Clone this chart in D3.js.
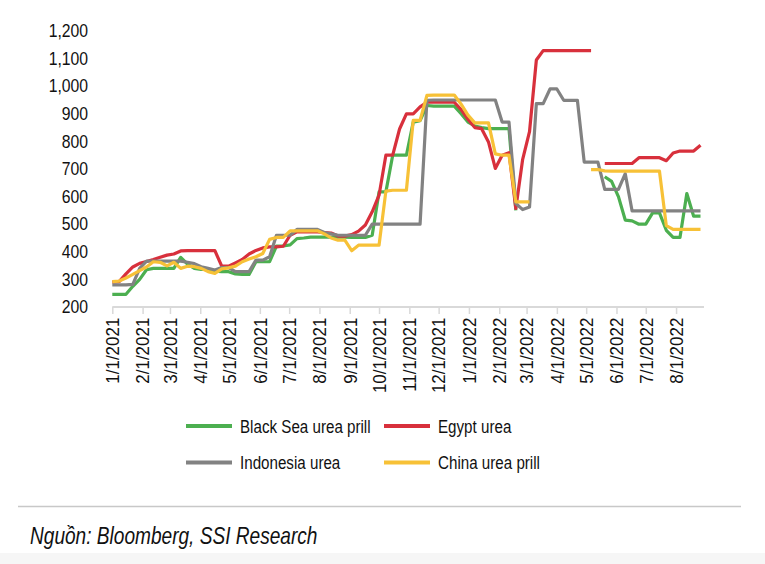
<!DOCTYPE html>
<html>
<head>
<meta charset="utf-8">
<script src="https://cdn.jsdelivr.net/npm/d3@7"></script>
<style>
  html, body { margin: 0; padding: 0; background: #ffffff; }
  svg { display: block; }
  text { font-family: 'Liberation Sans', Arial, Helvetica, sans-serif; fill: #111; }
</style>
</head>
<body>
<svg id="chart" width="765" height="564"></svg>
<script>
// ---- Data (weekly observations, starting 1/1/2021) ----
const startDate = new Date(2021, 0, 1);
const weekCount = 87;
const dates = d3.range(weekCount).map(i => d3.timeDay.offset(startDate, 7 * i));

const blackSea = [
  246, 246, 246, 275, 300, 335, 340, 340, 340, 340,
  380, 355, 340, 336, 336, 330, 328, 328, 320, 318,
  318, 364, 364, 364, 421, 421, 425, 448, 450, 453,
  453, 453, 453, 453, 453, 452, 452, 452, 460, 617,
  617, 750, 750, 750, 870, 875, 930, 928, 928, 928,
  928, 900, 870, 856, 850, 846, 846, 846, 846, 550,
  null, null, null, null, null, null, null, null, null, null,
  null, null, 672, 655, 600, 515, 512, 500, 500, 541,
  541, 478, 452, 452, 611, 529, 529
];
const egypt = [
  290, 292, 320, 345, 358, 365, 372, 380, 388, 392,
  403, 404, 404, 404, 404, 404, 348, 348, 360, 372,
  392, 405, 414, 418, 418, 420, 460, 472, 472, 472,
  472, 470, 468, 457, 457, 462, 475, 497, 545, 605,
  750, 750, 845, 900, 900, 925, 942, 942, 942, 942,
  942, 915, 880, 850, 846, 798, 702, 750, 759, 557,
  735, 835, 1095, 1129, 1129, 1129, 1129, 1129, 1129, 1129,
  1129, null, 720, 720, 720, 720, 720, 741, 741, 741,
  741, 730, 758, 765, 765, 765, 786
];
const indonesia = [
  280, 280, 280, 282, 340, 366, 366, 366, 366, 366,
  366, 362, 357, 346, 340, 334, 343, 343, 328, 328,
  328, 370, 370, 382, 460, 460, 460, 481, 481, 481,
  481, 470, 465, 460, 460, 460, 460, 460, 500, 500,
  500, 500, 500, 500, 500, 500, 949, 950, 950, 950,
  950, 950, 950, 950, 950, 950, 950, 870, 870, 575,
  553, 562, 937, 937, 990, 990, 949, 949, 949, 725,
  725, 725, 626, 626, 626, 683, 548, 548, 548, 548,
  548, 548, 548, 548, 548, 548, 548
];
const china = [
  292, 294, 305, 318, 332, 345, 364, 362, 349, 362,
  340, 348, 346, 340, 328, 322, 338, 342, 348, 364,
  374, 382, 394, 445, 452, 452, 476, 476, 476, 476,
  476, 465, 450, 442, 442, 404, 424, 424, 424, 424,
  620, 623, 623, 623, 876, 876, 967, 968, 968, 968,
  968, 935, 895, 867, 867, 867, 755, 750, 750, 581,
  581, 581, null, null, null, null, null, null, null, null,
  698, 698, 693, 692, 692, 692, 692, 692, 692, 692,
  692, 495, 481, 481, 481, 481, 481
];

const seriesNames = ["Black Sea urea prill", "Egypt urea", "Indonesia urea", "China urea prill"];
const seriesValues = [blackSea, egypt, indonesia, china];
const seriesColors = ["#4caf50", "#d8303c", "#828282", "#f7c137"];

const yTicks = [200, 300, 400, 500, 600, 700, 800, 900, 1000, 1100, 1200];
const xTicks = d3.range(20).map(m => new Date(2021, m, 1));
const sourceText = "Nguồn: Bloomberg, SSI Research";

// ---- Drawing ----
const svg = d3.select("#chart");

svg.append("rect").attr("x", 0).attr("y", 553).attr("width", 765).attr("height", 11).attr("fill", "#f6f6f6");

const x = d3.scaleTime().domain([dates[0], dates[dates.length - 1]]).range([112.3, 700.5]);
const y = d3.scaleLinear().domain([200, 1200]).range([307, 31]);

// Y labels (no axis line), slightly condensed
svg.append("g").selectAll("text").data(yTicks).join("text")
  .attr("transform", d => `translate(88,${y(d)}) scale(0.9,1)`)
  .attr("dy", "0.35em")
  .attr("text-anchor", "end").style("font-size", "17.5px")
  .text(d => d3.format(",")(d));

// X axis
const xAxisG = svg.append("g").attr("transform", "translate(0,307)");
xAxisG.append("line").attr("x1", x(dates[0])).attr("x2", 704).attr("y1", 0).attr("y2", 0)
  .attr("stroke", "#d9d9d9").attr("stroke-width", 2);
const xAxis = d3.axisBottom(x).tickValues(xTicks).tickSize(7).tickSizeOuter(0)
  .tickFormat(d3.timeFormat("%-m/%-d/%Y"));
const axisSel = xAxisG.append("g").call(xAxis);
axisSel.select(".domain").remove();
axisSel.selectAll(".tick line").attr("stroke", "#d9d9d9").attr("stroke-width", 1.5);
axisSel.selectAll(".tick text")
  .attr("transform", "rotate(-90) scale(0.97,1)")
  .attr("text-anchor", "end")
  .attr("x", -11).attr("y", 0).attr("dy", "0.36em")
  .style("font-size", "17.5px").style("fill", "#111")
  .style("font-family", "'Liberation Sans', Arial, sans-serif");

// Lines
const line = d3.line()
  .defined(d => d.v !== null)
  .x(d => x(d.date)).y(d => y(d.v));

seriesValues.forEach((vals, si) => {
  const pts = vals.map((v, i) => ({ date: dates[i], v }));
  svg.append("path").datum(pts)
    .attr("fill", "none").attr("stroke", seriesColors[si])
    .attr("stroke-width", 3.2).attr("stroke-linejoin", "round")
    .attr("d", line);
});

// Legend
const legendPos = [[186, 426], [384, 426], [186, 462.5], [384, 462.5]];
const legend = svg.append("g");
seriesNames.forEach((name, i) => {
  const [lx, ly] = legendPos[i];
  legend.append("line").attr("x1", lx).attr("x2", lx + 46).attr("y1", ly).attr("y2", ly)
    .attr("stroke", seriesColors[i]).attr("stroke-width", 4);
  legend.append("text")
    .attr("transform", `translate(${lx + 54},${ly}) scale(0.82,1)`)
    .attr("dy", "0.36em")
    .style("font-size", "18.5px").text(name);
});

// Separator and source
svg.append("line").attr("x1", 18).attr("x2", 741).attr("y1", 506.5).attr("y2", 506.5)
  .attr("stroke", "#c8c8c8").attr("stroke-width", 1.5);
svg.append("text")
  .attr("transform", "translate(30,544) scale(0.83,1)")
  .style("font-size", "23px").style("font-style", "italic").text(sourceText);
</script>
</body>
</html>
